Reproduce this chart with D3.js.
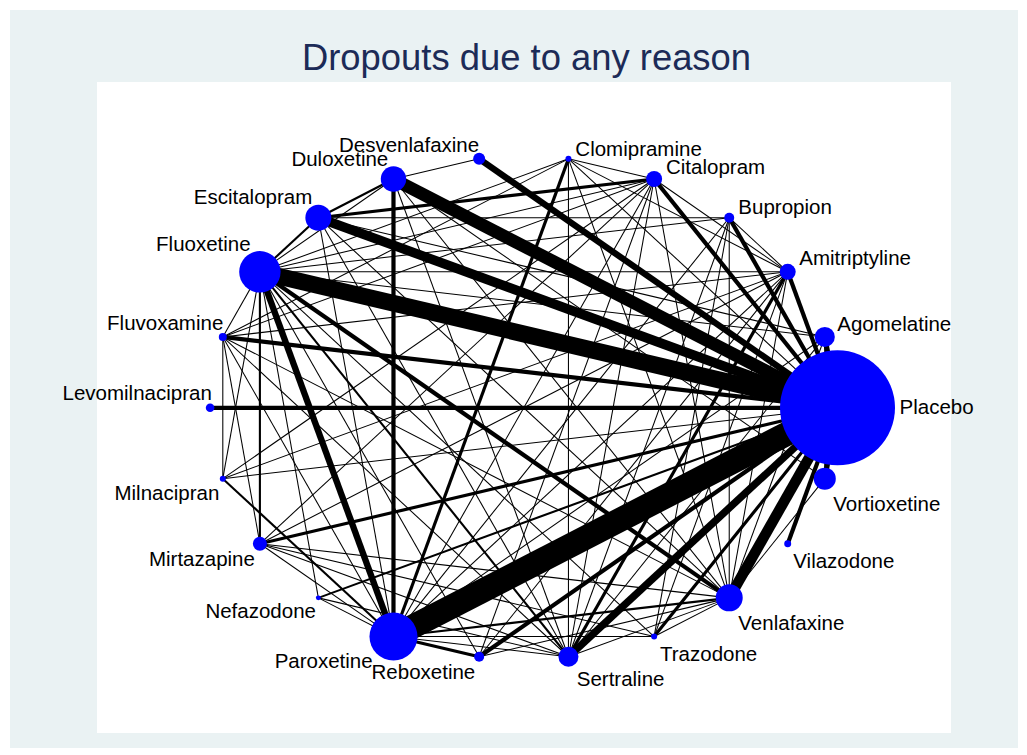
<!DOCTYPE html>
<html>
<head>
<meta charset="utf-8">
<script src="https://cdn.jsdelivr.net/npm/d3@7"></script>
<style>
  body { margin: 0; background: #ffffff; }
  svg { display: block; }
  text { font-family: "Liberation Sans", Arial, Helvetica, sans-serif; }
</style>
</head>
<body>
<div id="chart"></div>
<script>
// ---------------- DATA ----------------
const chartTitle = "Dropouts due to any reason";

// treatments, counter-clockwise from the right
const treatments = ["Placebo","Agomelatine","Amitriptyline","Bupropion","Citalopram","Clomipramine",
  "Desvenlafaxine","Duloxetine","Escitalopram","Fluoxetine","Fluvoxamine","Levomilnacipran",
  "Milnacipran","Mirtazapine","Nefazodone","Paroxetine","Reboxetine","Sertraline","Trazodone",
  "Venlafaxine","Vilazodone","Vortioxetine"];

// node weight (approx. participants) -> node area
const participants = [33000, 1000, 640, 250, 640, 90, 360, 1610, 1690, 4280, 160, 185,
  90, 490, 62, 5750, 250, 1000, 90, 1820, 122, 1210];

// direct comparisons (number of studies)
const edgeFrom = [
  "Placebo","Placebo","Placebo","Placebo","Placebo","Placebo","Placebo","Placebo","Placebo","Placebo",
  "Placebo","Placebo","Placebo","Placebo","Placebo","Placebo","Placebo","Placebo","Placebo","Placebo","Placebo",
  "Agomelatine","Agomelatine","Agomelatine","Agomelatine","Agomelatine","Agomelatine",
  "Amitriptyline","Amitriptyline","Amitriptyline","Amitriptyline","Amitriptyline","Amitriptyline",
  "Amitriptyline","Amitriptyline","Amitriptyline","Amitriptyline","Amitriptyline","Amitriptyline",
  "Bupropion","Bupropion","Bupropion","Bupropion","Bupropion","Bupropion",
  "Citalopram","Citalopram","Citalopram","Citalopram","Citalopram","Citalopram","Citalopram",
  "Citalopram","Citalopram","Citalopram",
  "Clomipramine","Clomipramine","Clomipramine","Clomipramine","Clomipramine",
  "Desvenlafaxine",
  "Duloxetine","Duloxetine","Duloxetine","Duloxetine","Duloxetine","Duloxetine",
  "Escitalopram","Escitalopram","Escitalopram","Escitalopram",
  "Fluoxetine","Fluoxetine","Fluoxetine","Fluoxetine","Fluoxetine","Fluoxetine","Fluoxetine",
  "Fluoxetine","Fluoxetine",
  "Fluvoxamine","Fluvoxamine","Fluvoxamine","Fluvoxamine","Fluvoxamine",
  "Milnacipran",
  "Mirtazapine","Mirtazapine","Mirtazapine","Mirtazapine",
  "Nefazodone","Nefazodone",
  "Paroxetine","Paroxetine","Paroxetine","Paroxetine",
  "Reboxetine","Sertraline","Trazodone","Venlafaxine"];
const edgeTo = [
  "Paroxetine","Fluoxetine","Duloxetine","Escitalopram","Venlafaxine","Sertraline","Desvenlafaxine",
  "Citalopram","Bupropion","Amitriptyline","Agomelatine","Vortioxetine","Vilazodone","Levomilnacipran",
  "Fluvoxamine","Mirtazapine","Reboxetine","Trazodone","Nefazodone","Clomipramine","Milnacipran",
  "Fluoxetine","Paroxetine","Sertraline","Venlafaxine","Escitalopram","Vortioxetine",
  "Fluoxetine","Paroxetine","Sertraline","Mirtazapine","Fluvoxamine","Milnacipran",
  "Citalopram","Trazodone","Venlafaxine","Bupropion","Clomipramine","Reboxetine",
  "Escitalopram","Sertraline","Paroxetine","Venlafaxine","Fluoxetine","Trazodone",
  "Escitalopram","Fluoxetine","Paroxetine","Sertraline","Venlafaxine","Reboxetine","Mirtazapine",
  "Clomipramine","Fluvoxamine","Milnacipran",
  "Paroxetine","Sertraline","Fluoxetine","Fluvoxamine","Venlafaxine",
  "Duloxetine",
  "Paroxetine","Escitalopram","Fluoxetine","Venlafaxine","Sertraline","Vortioxetine",
  "Fluoxetine","Paroxetine","Sertraline","Venlafaxine",
  "Paroxetine","Venlafaxine","Sertraline","Mirtazapine","Fluvoxamine","Milnacipran","Nefazodone",
  "Reboxetine","Trazodone",
  "Milnacipran","Paroxetine","Mirtazapine","Sertraline","Venlafaxine",
  "Paroxetine",
  "Paroxetine","Sertraline","Venlafaxine","Trazodone",
  "Paroxetine","Sertraline",
  "Reboxetine","Venlafaxine","Sertraline","Trazodone",
  "Venlafaxine","Venlafaxine","Venlafaxine","Vortioxetine"];
const edgeStudies = [
  23,16,12,9,10,7,6,4,4,4,5,5,4,4,4,3,4,3,2,1,1,
  1,1,1,1,1,1,
  1,1,3,1,1,1,1,1,1,1,1,1,
  1,1,1,1,1,1,
  3,1,1,1,1,1,1,1,1,1,
  3,1,1,1,1,
  1,
  4,2,1,1,1,1,
  2,1,1,1,
  6,4,2,2,1,1,1,1,1,
  1,1,1,1,1,
  2,
  1,1,1,1,
  1,1,
  3,2,1,1,
  1,1,1,1];

// ---------------- LAYOUT / STYLE ----------------
const W = 1027, H = 755;
const panel = {x: 10, y: 10, w: 1008, h: 738, fill: "rgb(234,242,243)"};
const plot = {x: 97, y: 82, w: 854, h: 651};
const ring = {x0: 210.1, x1: 837.5, y0: 659.3, y1: 156.3};
const nodeColor = "#0000ff";
const titleColor = "#1c2b57";
const labelSize = 20.5;
// label nudges [dx, dy] from node centre (baseline), anchor side by position
const labelNudge = [[62,6.5],[12.5,-6.3],[11.6,-6.8],[9.1,-3.7],[11.9,-5],[6.9,-3.2],
  [0,-7.2],[-5.2,-13.3],[-6.1,-13.7],[-9.2,-21.1],[0.5,-7],[1.7,-7.8],
  [-3.5,21.4],[-5,22],[-2.4,20.4],[-20.8,31.7],[-3.9,22.6],[8.3,29],[5.9,24.1],
  [9.1,32.1],[5.6,24.5],[8.5,32.1]];

const svg = d3.select("#chart").append("svg").attr("width", W).attr("height", H);
svg.append("rect").attr("width", W).attr("height", H).attr("fill", "#ffffff");
svg.append("rect").attr("x", panel.x).attr("y", panel.y).attr("width", panel.w)
  .attr("height", panel.h).attr("fill", panel.fill);
svg.append("rect").attr("x", plot.x).attr("y", plot.y).attr("width", plot.w)
  .attr("height", plot.h).attr("fill", "#ffffff");

svg.append("text").attr("x", 526.5).attr("y", 70).attr("text-anchor", "middle")
  .attr("font-size", 36.4).attr("fill", titleColor).text(chartTitle);

const n = treatments.length;
const xScale = d3.scaleLinear().domain([-1, 1]).range([ring.x0, ring.x1]);
const yScale = d3.scaleLinear().domain([-1, 1]).range([ring.y0, ring.y1]);
const rScale = d3.scaleSqrt().domain([0, d3.max(participants)]).range([0, 57.5]);
const wScale = d3.scaleLinear().domain([0, d3.max(edgeStudies)]).range([0, 24.2]);

const nodes = treatments.map((t, i) => {
  const a = i * 2 * Math.PI / n;
  return {name: t, i, c: Math.cos(a), s: Math.sin(a),
    x: xScale(Math.cos(a)), y: yScale(Math.sin(a)), r: rScale(participants[i])};
});
const byName = new Map(nodes.map(d => [d.name, d]));
const edges = edgeFrom.map((f, k) => ({a: byName.get(f), b: byName.get(edgeTo[k]), w: edgeStudies[k]}))
  .sort((p, q) => q.w - p.w);

svg.append("g").selectAll("line").data(edges).join("line")
  .attr("x1", d => d.a.x).attr("y1", d => d.a.y)
  .attr("x2", d => d.b.x).attr("y2", d => d.b.y)
  .attr("stroke", "#000").attr("stroke-width", d => wScale(d.w));

svg.append("g").selectAll("circle").data(nodes).join("circle")
  .attr("cx", d => d.x).attr("cy", d => d.y).attr("r", d => d.r).attr("fill", nodeColor);

svg.append("g").selectAll("text").data(nodes).join("text")
  .attr("x", d => d.x + labelNudge[d.i][0])
  .attr("y", d => d.y + labelNudge[d.i][1])
  .attr("text-anchor", d => d.c > 0.01 ? "start" : "end")
  .attr("font-size", labelSize).attr("fill", "#000")
  .text(d => d.name);
</script>
</body>
</html>
